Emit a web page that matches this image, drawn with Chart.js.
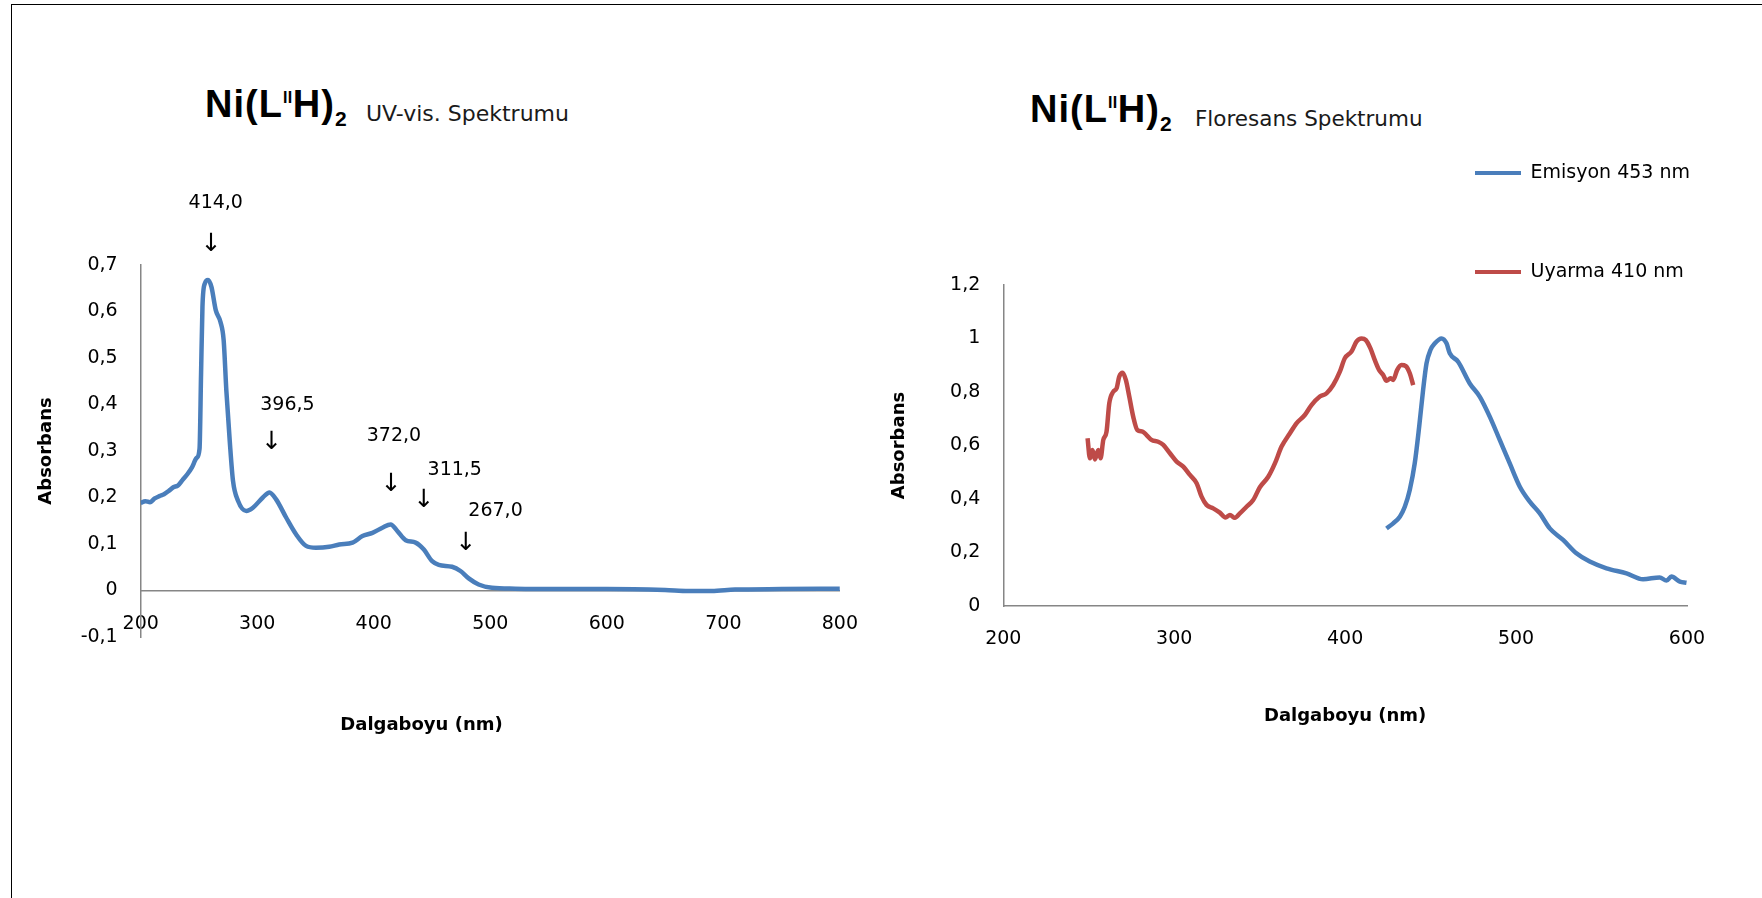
<!DOCTYPE html>
<html><head><meta charset="utf-8">
<script src="https://cdn.jsdelivr.net/npm/chart.js@4.4.1/dist/chart.umd.min.js"></script>
<style>
html,body{margin:0;padding:0;background:#fff;width:1762px;height:898px;overflow:hidden;position:relative;}
.frame{position:absolute;left:11px;top:4px;width:1800px;height:1000px;border-top:1px solid #000;border-left:1px solid #000;}
.cv{position:absolute;top:0;}
.t{position:absolute;white-space:nowrap;color:#000;}
.big{font-family:"Liberation Sans",Arial,sans-serif;font-weight:bold;font-size:38px;line-height:38px;letter-spacing:1px;}
.sub{font-family:"DejaVu Sans",sans-serif;line-height:20px;color:#1a1a1a;}
.sp{position:relative;font-size:16px;top:-14px;letter-spacing:0.5px;}
.sb{position:relative;font-size:21px;top:9px;}
</style></head><body>
<div class="frame"></div>
<div class="t big" style="left:205px;top:85px">Ni(L<span class="sp">II</span>H)<span class="sb">2</span></div>
<div class="t sub" style="left:366px;top:104px;font-size:22px">UV-vis. Spektrumu</div>
<div class="t big" style="left:1030px;top:90px">Ni(L<span class="sp">II</span>H)<span class="sb">2</span></div>
<div class="t sub" style="left:1195px;top:109px;font-size:21.5px">Floresans Spektrumu</div>
<canvas id="uv" class="cv" style="left:0px" width="880" height="898"></canvas>
<canvas id="fl" class="cv" style="left:880px" width="882" height="898"></canvas>
<script>
// ---- UV-vis spectrum ----
const uvWavelength = [200, 204, 208, 212, 216, 220, 224, 228, 232, 236, 240, 244, 248, 250.5, 251.8, 253, 255, 257.8, 260.7, 264.4, 268.4, 271.2, 273.5, 276.4, 279.2, 283.5, 290.6, 296.3, 304.8, 310.5, 316.2, 324.8, 333.3, 341.9, 350.4, 361.8, 370.4, 381.8, 390.3, 398.9, 407.4, 414.5, 420.2, 427.4, 435.9, 443, 450.1, 455.8, 467.2, 474.4, 481.5, 490, 501.4, 521.4, 549.8, 600, 650, 670, 690, 710, 750, 800];
const uvAbsorbance = [0.188, 0.192, 0.19, 0.198, 0.203, 0.207, 0.214, 0.222, 0.226, 0.238, 0.25, 0.265, 0.285, 0.305, 0.466, 0.61, 0.66, 0.668, 0.653, 0.603, 0.578, 0.538, 0.43, 0.322, 0.236, 0.193, 0.171, 0.178, 0.2, 0.211, 0.196, 0.157, 0.121, 0.096, 0.092, 0.094, 0.099, 0.103, 0.117, 0.124, 0.135, 0.142, 0.128, 0.108, 0.103, 0.088, 0.063, 0.055, 0.051, 0.042, 0.026, 0.013, 0.006, 0.004, 0.003, 0.003, 0.001, -0.001, -0.001, 0.002, 0.003, 0.004];
const uvXTicks = [200, 300, 400, 500, 600, 700, 800];
const uvYTicks = [-0.1, 0, 0.1, 0.2, 0.3, 0.4, 0.5, 0.6, 0.7];
const peakLabels = ['414,0', '396,5', '372,0', '311,5', '267,0'];
const peakLabelNm = [264.4, 325.9, 417.3, 469.5, 504.5];
const peakLabelAbs = [0.834, 0.398, 0.333, 0.259, 0.171];
const peakArrowNm = [260.5, 312.5, 415, 443, 479.1];
const peakArrowAbs = [0.745, 0.318, 0.229, 0.193, 0.102];

// ---- Fluorescence spectrum ----
const emWavelength = [424.2, 428.1, 432, 434.9, 437.8, 440.7, 443.3, 445.6, 447.6, 449.9, 452.5, 456.4, 459.3, 461.2, 466.1, 472.9, 478.8, 484.6, 490.5, 496.3, 502.2, 508, 513.9, 519.7, 527.5, 535.3, 543.1, 552.9, 564.6, 574.3, 584, 588, 590.9, 595.8, 599.7];
const emIntensity = [0.29, 0.309, 0.334, 0.371, 0.434, 0.533, 0.67, 0.807, 0.907, 0.957, 0.982, 1.0, 0.982, 0.945, 0.913, 0.832, 0.782, 0.708, 0.62, 0.533, 0.446, 0.39, 0.346, 0.29, 0.247, 0.197, 0.166, 0.141, 0.122, 0.1, 0.107, 0.095, 0.11, 0.091, 0.087];
const exWavelength = [249.3, 250.7, 252.2, 253.6, 255.6, 256.9, 258.5, 260.4, 262, 264.3, 266.3, 267.8, 269.8, 271.7, 273.7, 276, 278.4, 281.5, 283.8, 286.7, 290.6, 293.6, 297.5, 301.4, 305.3, 309.2, 313.1, 316, 318.9, 322.8, 326.7, 330, 332.6, 335.5, 338.4, 342.3, 346.2, 350.1, 355, 358.9, 362.8, 367.6, 371.5, 376.4, 380.3, 385.2, 389.1, 393, 396.9, 399.8, 403.7, 406.6, 409.6, 412.1, 414.8, 417.3, 419.9, 422.2, 424.2, 426.5, 428.1, 430.4, 432.9, 435.5, 437.8, 439.8];
const exIntensity = [0.627, 0.552, 0.583, 0.548, 0.583, 0.552, 0.621, 0.652, 0.758, 0.801, 0.814, 0.857, 0.872, 0.845, 0.783, 0.708, 0.658, 0.652, 0.639, 0.621, 0.614, 0.602, 0.571, 0.54, 0.521, 0.49, 0.459, 0.409, 0.378, 0.365, 0.349, 0.331, 0.34, 0.33, 0.346, 0.371, 0.396, 0.444, 0.483, 0.533, 0.596, 0.645, 0.683, 0.714, 0.751, 0.783, 0.795, 0.826, 0.876, 0.926, 0.951, 0.988, 1.0, 0.994, 0.963, 0.92, 0.882, 0.864, 0.842, 0.851, 0.845, 0.882, 0.901, 0.897, 0.87, 0.826];
const flXTicks = [200, 300, 400, 500, 600];
const flYTicks = [0, 0.2, 0.4, 0.6, 0.8, 1, 1.2];
const seriesNames = ['Emisyon 453 nm', 'Uyarma 410 nm'];

const BLUE = '#4A7EBB', RED = '#BE4B48', AXIS = '#868686';
const toXY = (xs, ys) => xs.map((x, i) => ({x: x, y: ys[i]}));
const fmt = v => String(Math.round(v * 10) / 10).replace('.', ',');
const setTicks = arr => (s => { s.ticks = arr.map(v => ({value: v})); });

Chart.defaults.font.family = '"DejaVu Sans", sans-serif';
Chart.defaults.font.size = 19;
Chart.defaults.color = '#000';

const titleFont = {family: '"DejaVu Sans", sans-serif', weight: 'bold', size: 18};

const peakLabelPlugin = {
  id: 'peakLabels',
  afterDatasetsDraw(chart) {
    const {ctx, scales: {x, y}} = chart;
    ctx.save();
    ctx.fillStyle = '#000';
    ctx.textAlign = 'center';
    ctx.textBaseline = 'middle';
    ctx.font = '19px "DejaVu Sans", sans-serif';
    peakLabels.forEach((t, i) => {
      ctx.fillText(t, x.getPixelForValue(peakLabelNm[i]), y.getPixelForValue(peakLabelAbs[i]));
    });
    ctx.font = '25px "DejaVu Sans", sans-serif';
    peakArrowNm.forEach((nm, i) => {
      ctx.fillText('\u2193', x.getPixelForValue(nm), y.getPixelForValue(peakArrowAbs[i]));
    });
    ctx.restore();
  }
};

const legendPlace = {
  id: 'legendPlace',
  afterLayout(chart, args, opts) {
    const lg = chart.legend;
    if (!lg) return;
    lg.left = opts.left; lg.top = opts.top;
    lg.right = opts.left + 400; lg.bottom = opts.top + 500;
    lg.width = 400; lg.height = 500;
  }
};

new Chart(document.getElementById('uv'), {
  type: 'line',
  data: {datasets: [{
    label: 'UV-vis', data: toXY(uvWavelength, uvAbsorbance),
    borderColor: BLUE, backgroundColor: BLUE, borderWidth: 4.5,
    pointRadius: 0, cubicInterpolationMode: 'monotone', fill: false
  }]},
  options: {
    responsive: false, animation: false, devicePixelRatio: 1,
    layout: {padding: {left: 0, top: 265, right: 37, bottom: 162.2}},
    plugins: {
      legend: {display: false}, tooltip: {enabled: false},
      title: {display: true, text: 'Dalgaboyu (nm)', position: 'bottom', align: 'center',
        font: titleFont, color: '#000', padding: {top: 77.2, bottom: 0}}
    },
    scales: {
      x: {type: 'linear', min: 200, max: 800, position: {y: 0},
        afterBuildTicks: setTicks(uvXTicks),
        grid: {display: false, drawTicks: false},
        border: {display: true, color: AXIS, width: 1.5},
        ticks: {padding: 22, maxRotation: 0, autoSkip: false, color: '#000'}},
      y: {type: 'linear', min: -0.1, max: 0.7,
        afterBuildTicks: setTicks(uvYTicks),
        afterFit: s => { s.width = 140.7; },
        grid: {display: false, drawTicks: false},
        border: {display: true, color: AXIS, width: 1.5},
        ticks: {padding: 23, callback: fmt, color: '#000'},
        title: {display: true, text: 'Absorbans', font: titleFont, color: '#000', padding: {top: 35.2, bottom: 0}}}
    }
  },
  plugins: [peakLabelPlugin]
});

new Chart(document.getElementById('fl'), {
  type: 'line',
  data: {datasets: [
    {label: seriesNames[0], data: toXY(emWavelength, emIntensity), borderColor: BLUE, backgroundColor: BLUE,
      borderWidth: 4.5, pointRadius: 0, cubicInterpolationMode: 'monotone', fill: false},
    {label: seriesNames[1], data: toXY(exWavelength, exIntensity), borderColor: RED, backgroundColor: RED,
      borderWidth: 4.5, pointRadius: 0, cubicInterpolationMode: 'monotone', fill: false}
  ]},
  options: {
    responsive: false, animation: false, devicePixelRatio: 1,
    layout: {padding: {left: 0, top: 285, right: 75, bottom: 171.2}},
    plugins: {
      tooltip: {enabled: false},
      legend: {display: true, position: 'chartArea', align: 'start',
        labels: {boxWidth: 46, boxHeight: 4, padding: 80, color: '#000',
          font: {family: '"DejaVu Sans", sans-serif', size: 19},
          generateLabels: chart => Chart.defaults.plugins.legend.labels.generateLabels(chart)
            .map(l => Object.assign(l, {lineWidth: 0, fillStyle: l.strokeStyle}))}},
      legendPlace: {left: 515, top: 83.5}
    },
    scales: {
      x: {type: 'linear', min: 200, max: 600, position: 'bottom',
        afterBuildTicks: setTicks(flXTicks),
        grid: {display: false, drawTicks: false},
        border: {display: true, color: AXIS, width: 1.5},
        ticks: {padding: 22, maxRotation: 0, autoSkip: false, color: '#000'},
        title: {display: true, text: 'Dalgaboyu (nm)', font: titleFont, color: '#000', padding: {top: 32.4, bottom: 0}}},
      y: {type: 'linear', min: 0, max: 1.2,
        afterBuildTicks: setTicks(flYTicks),
        afterFit: s => { s.width = 123.3; },
        grid: {display: false, drawTicks: false},
        border: {display: true, color: AXIS, width: 1.5},
        ticks: {padding: 23, callback: fmt, color: '#000'},
        title: {display: true, text: 'Absorbans', font: titleFont, color: '#000', padding: {top: 8.7, bottom: 0}}}
    }
  },
  plugins: [legendPlace]
});
</script>
</body></html>
